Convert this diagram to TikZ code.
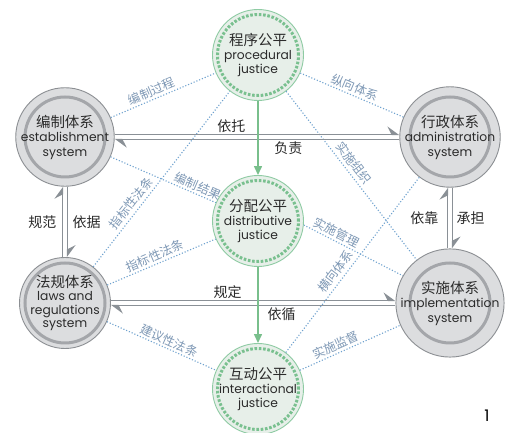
\documentclass[tikz,border=0pt]{standalone}
\usepackage{fontspec}
\setmainfont{Poppins}
\newfontfamily\cjk{Noto Sans CJK SC}
\usetikzlibrary{arrows.meta}
\definecolor{gborder}{HTML}{8C8F93}
\definecolor{gfill}{HTML}{DCDDDF}
\definecolor{gring}{HTML}{A4A6AA}
\definecolor{grborder}{HTML}{8ECBA3}
\definecolor{grfill}{HTML}{E7EFE9}
\definecolor{grring}{HTML}{79C08F}
\definecolor{grarrow}{HTML}{79BF8C}
\definecolor{dotcol}{HTML}{6FA2CF}
\definecolor{labcol}{HTML}{7E98B5}
\definecolor{dblcol}{HTML}{8A9096}
\definecolor{txt}{HTML}{2B2B2B}
\newcommand{\ttl}[1]{{\cjk\fontsize{14.5}{17}\selectfont #1}}
\begin{document}
\begin{tikzpicture}[x=1pt,y=1pt,
  graynode/.style={circle, minimum size=91pt, inner sep=0pt, draw=gborder, line width=0.9pt,
    fill=gfill, text=txt, align=center, font=\fontsize{12.3}{14.5}\selectfont,
    path picture={\draw[gring, line width=3pt] (path picture bounding box.center) circle (40pt);}},
  greennode/.style={circle, minimum size=91pt, inner sep=0pt, draw=grborder, line width=0.9pt,
    fill=grfill, text=txt, align=center, font=\fontsize{12.3}{14}\selectfont,
    path picture={\draw[grring, line width=3pt, dash pattern=on 2.6pt off 1.7pt] (path picture bounding box.center) circle (40.5pt);}},
  dots/.style={dotcol, line width=1.1pt, dash pattern=on 1.1pt off 1.9pt},
  dlab/.style={font=\cjk\fontsize{12.3}{13}\selectfont, text=labcol, sloped, above, inner sep=2pt},
  dbl/.style={dblcol, line width=1.3pt},
  harp/.style={-{Stealth[harpoon, length=11pt, width=16pt, inset=4pt]}},
  mlab/.style={font=\cjk\fontsize{14}{14}\selectfont, text=txt, inner sep=1.5pt},
  garrow/.style={grarrow, line width=1.4pt, -{Triangle[length=9pt, width=8pt]}},
]
\fill[white] (0,0) rectangle (515,433);
\useasboundingbox (0,0) rectangle (515,433);

% nodes
\node[greennode] (pro) at (258,378) {\ttl{程序公平}\\procedural\\justice};
\node[greennode] (dis) at (258,212) {\ttl{分配公平}\\distributive\\justice};
\node[greennode] (int) at (258,44) {\ttl{互动公平}\\interactional\\justice};
\node[graynode] (est) at (65,296) {\ttl{编制体系}\\establishment\\system};
\node[graynode] (adm) at (450,296) {\ttl{行政体系}\\administration\\system};
\node[graynode, font=\fontsize{12.3}{13.5}\selectfont] (law) at (65,130) {\ttl{法规体系}\\laws and\\regulations\\system};
\node[graynode] (imp) at (450,130) {\ttl{实施体系}\\implementation\\system};

% dotted relations
\draw[dots] (est) -- (pro) node[dlab, pos=0.42] {编制过程};
\draw[dots] (pro) -- (adm) node[dlab, pos=0.5] {纵向体系};
\draw[dots] (est) -- (dis) node[dlab, pos=0.8] {编制结果};
\draw[dots] (law) -- (dis) node[dlab, pos=0.47] {指标性法条};
\draw[dots] (dis.-5) -- (imp.150) node[dlab, pos=0.29] {实施管理};
\draw[dots] (law) -- (int) node[dlab, pos=0.54] {建议性法条};
\draw[dots] (int) -- (imp) node[dlab, pos=0.39] {实施监督};
\draw[dots] (int) -- (adm) node[dlab, pos=0.43, inner sep=3.5pt] {横向体系};
\draw[dots] (pro) -- (imp) node[dlab, pos=0.46, inner sep=3.5pt] {实施组织};
\draw[dots] (law) -- (pro) node[dlab, pos=0.33, inner sep=3pt] {指标性法条};

% double connectors
\draw[dbl, harp] ([yshift=2.5pt]est.east) -- ([yshift=2.5pt]adm.west) node[mlab, pos=0.41, above] {依托};
\draw[dbl, harp] ([yshift=-2.5pt]adm.west) -- ([yshift=-2.5pt]est.east) node[mlab, pos=0.39, below] {负责};
\draw[dbl, harp] ([yshift=2.5pt]law.east) -- ([yshift=2.5pt]imp.west) node[mlab, pos=0.41, above] {规定};
\draw[dbl, harp] ([yshift=-2.5pt]imp.west) -- ([yshift=-2.5pt]law.east) node[mlab, pos=0.4, below] {依循};
\draw[dbl, harp] ([xshift=-2.5pt]law.north) -- ([xshift=-2.5pt]est.south) node[mlab, midway, left=4pt] {规范};
\draw[dbl, harp] ([xshift=2.5pt]est.south) -- ([xshift=2.5pt]law.north) node[mlab, midway, right=3pt] {依据};
\draw[dbl, harp] ([xshift=-2.5pt]imp.north) -- ([xshift=-2.5pt]adm.south) node[mlab, midway, left=7pt] {依靠};
\draw[dbl, harp] ([xshift=2.5pt]adm.south) -- ([xshift=2.5pt]imp.north) node[mlab, midway, right=2pt] {承担};

% green arrows
\draw[garrow] (pro) -- (dis);
\draw[garrow] (dis) -- (int);

\node[font=\fontsize{16}{16}\selectfont, text=black] (num) at (487,17) {1};
\end{tikzpicture}
\end{document}
